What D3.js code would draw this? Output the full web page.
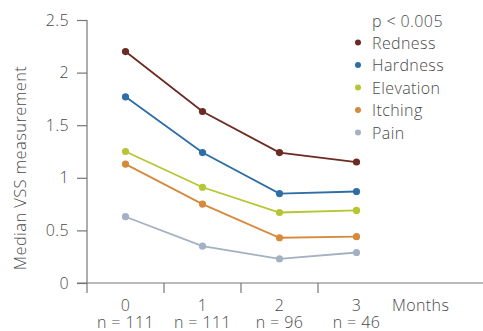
<!DOCTYPE html>
<html>
<head>
<meta charset="utf-8">
<script src="https://cdn.jsdelivr.net/npm/d3@7"></script>
<style>
  body { margin: 0; background: #fff; }
  text { font-family: "Open Sans", sans-serif; fill: #4a4a4a; }
</style>
</head>
<body>
<div id="chart-area"></div>
<script>
// chart data
var months = ["0", "1", "2", "3"];
var sampleSizes = ["n = 111", "n = 111", "n = 96", "n = 46"];
var seriesNames = ["Redness", "Hardness", "Elevation", "Itching", "Pain"];
var redness = [2.2, 1.63, 1.24, 1.15];
var hardness = [1.77, 1.24, 0.85, 0.87];
var elevation = [1.25, 0.91, 0.67, 0.69];
var itching = [1.13, 0.75, 0.43, 0.44];
var pain = [0.63, 0.35, 0.23, 0.29];
var yTicks = [0, 0.5, 1, 1.5, 2, 2.5];
var seriesColors = ["#6b2b22", "#2e6da6", "#b6c532", "#d68a3c", "#a3b1c3"];

var seriesValues = [redness, hardness, elevation, itching, pain];

var width = 483, height = 331;
var fontSize = "16px";

var svg = d3.select("#chart-area").append("svg")
    .attr("width", width)
    .attr("height", height);

var x = d3.scaleBand()
    .domain(months)
    .range([87, 395]);

var y = d3.scaleLinear()
    .domain([0, 2.5])
    .range([283, 20]);

function styleText(sel){
    sel.attr("font-size", fontSize)
       .attr("font-family", "'Open Sans', sans-serif")
       .attr("font-weight", 300)
       .attr("letter-spacing", "0.4px")
       .attr("fill", "#4a4a4a");
}

// y axis
var yAxis = svg.append("g")
    .attr("transform", "translate(87,0)")
    .call(d3.axisLeft(y).tickValues(yTicks).tickSize(10).tickPadding(8)
        .tickFormat(function(d){ return d3.format("")(d); }));
yAxis.select(".domain").remove();
yAxis.selectAll(".tick line").attr("stroke", "#777").attr("stroke-width", 1.2);
yAxis.selectAll(".tick text").call(styleText);

// axis lines
svg.append("line")
    .attr("x1", 87).attr("x2", 87)
    .attr("y1", y(2.5)).attr("y2", 293)
    .attr("stroke", "#777").attr("stroke-width", 1.2);
svg.append("line")
    .attr("x1", 77).attr("x2", 483)
    .attr("y1", y(0)).attr("y2", y(0))
    .attr("stroke", "#777").attr("stroke-width", 1.2);

// x band boundary ticks
svg.selectAll(".xtick")
    .data(months.slice(1))
    .enter()
    .append("line")
        .attr("class", "xtick")
        .attr("x1", function(d){ return x(d); })
        .attr("x2", function(d){ return x(d); })
        .attr("y1", y(0))
        .attr("y2", y(0) + 10)
        .attr("stroke", "#777")
        .attr("stroke-width", 1.2);

// x labels
svg.selectAll(".xlabel")
    .data(months)
    .enter()
    .append("text")
        .attr("class", "xlabel")
        .attr("x", function(d){ return x(d) + x.bandwidth() / 2; })
        .attr("y", 311)
        .attr("text-anchor", "middle")
        .call(styleText)
        .text(function(d){ return d; });

svg.selectAll(".nlabel")
    .data(sampleSizes)
    .enter()
    .append("text")
        .attr("class", "nlabel")
        .attr("x", function(d, i){ return x(months[i]) + x.bandwidth() / 2; })
        .attr("y", 328)
        .attr("text-anchor", "middle")
        .call(styleText)
        .text(function(d){ return d; });

svg.append("text")
    .attr("x", 392)
    .attr("y", 311)
    .call(styleText)
    .text("Months");

// y axis title
svg.append("text")
    .attr("transform", "translate(26,168) rotate(-90)")
    .attr("text-anchor", "middle")
    .call(styleText)
    .attr("font-size", "16.5px")
    .text("Median VSS measurement");

// lines and points
var line = d3.line()
    .x(function(d, i){ return x(months[i]) + x.bandwidth() / 2; })
    .y(function(d){ return y(d); });

seriesValues.forEach(function(vals, s){
    svg.append("path")
        .datum(vals)
        .attr("d", line)
        .attr("fill", "none")
        .attr("stroke", seriesColors[s])
        .attr("stroke-width", 1.8);

    svg.selectAll(".pt" + s)
        .data(vals)
        .enter()
        .append("circle")
            .attr("class", "pt" + s)
            .attr("cx", function(d, i){ return x(months[i]) + x.bandwidth() / 2; })
            .attr("cy", function(d){ return y(d); })
            .attr("r", 3.6)
            .attr("fill", seriesColors[s]);
});

// legend
svg.append("text")
    .attr("x", 372)
    .attr("y", 26.5)
    .call(styleText)
    .text("p < 0.005");

var legend = svg.selectAll(".legend")
    .data(seriesNames)
    .enter()
    .append("g")
        .attr("class", "legend")
        .attr("transform", function(d, i){ return "translate(0," + (42.5 + i * 22.5) + ")"; });

legend.append("circle")
    .attr("cx", 358)
    .attr("cy", 0)
    .attr("r", 3)
    .attr("fill", function(d, i){ return seriesColors[i]; });

legend.append("text")
    .attr("x", 372)
    .attr("y", 6)
    .call(styleText)
    .text(function(d){ return d; });
</script>
</body>
</html>
